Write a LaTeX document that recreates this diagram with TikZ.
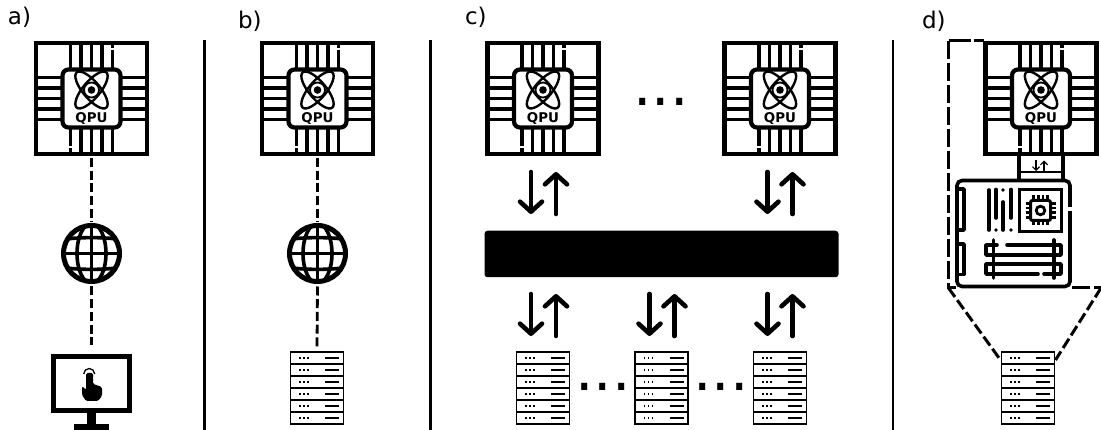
\documentclass[tikz,border=0pt]{standalone}
\usepackage{fontspec}
\setmainfont{DejaVu Sans}
\usetikzlibrary{arrows.meta}
\tikzset{
  every node/.style={inner sep=0pt,outer sep=0pt},
  qpuframe/.style={draw=black,line width=4.6pt,minimum width=111pt,minimum height=111pt,fill=white},
  qpucore/.style={draw=black,line width=4.2pt,minimum width=58pt,minimum height=58pt,rounded corners=6pt,fill=white},
  pinline/.style={line width=3.5pt},
  orbit/.style={line width=2.4pt},
  linkdash/.style={line width=2.8pt,dash pattern=on 9pt off 3.7pt},
  divider/.style={line width=2.6pt},
  barb/.style={line width=4.6pt,line cap=round,-{Straight Barb[length=10pt,width=22pt,round,line width=4.6pt]}},
  smallbarb/.style={line width=1.2pt,-{Straight Barb[length=3.5pt,width=7pt,line width=1.2pt]}},
  tag/.style={anchor=base west,font=\fontsize{23}{23}\selectfont},
  ellipsis/.style={anchor=base,font=\fontsize{58}{58}\selectfont},
  rackbox/.style={draw=black,line width=1.8pt,minimum width=53pt,minimum height=72pt,fill=white},
  boardline/.style={line width=3.6pt,line cap=round,line join=round},
  funnel/.style={line width=3pt,dash pattern=on 11pt off 4pt},
}
\newcommand{\qpuicon}[3]{%
  \node[qpuframe] (#1) at (#2,#3) {};
  \begin{scope}[shift={(#2,#3)}]
    \foreach \d in {-21,-10.5,0,10.5,21}{
      \draw[pinline] (\d,-56) -- (\d,56);
      \draw[pinline] (-56,\d) -- (56,\d);
    }
    \draw[white,line width=4pt] (21,-50) -- (21,-48);
    \draw[white,line width=4pt] (-21,48) -- (-21,50);
    \node[qpucore] (#1core) at (0,0) {};
    \begin{scope}[shift={(0,-8.5)}]
      \draw[orbit,rotate=50] (0,0) ellipse (23 and 8.5);
      \draw[orbit,rotate=-50] (0,0) ellipse (23 and 8.5);
      \draw[line width=1.8pt] (0,0) circle (7.5);
      \fill (0,0) circle (3.8);
    \end{scope}
    \node[anchor=base,font=\fontsize{13.4}{13.4}\selectfont\bfseries] (#1text) at (0,24.5) {QPU};
  \end{scope}}
\newcommand{\globeicon}[3]{%
  \node[draw=black,line width=5pt,circle,minimum size=56pt] (#1) at (#2,#3) {};
  \begin{scope}
    \clip (#2,#3) circle (28);
    \begin{scope}[shift={(#2,#3)},line width=3.6pt]
      \draw (0,-30) -- (0,30);
      \draw (-30,0) -- (30,0);
      \draw (0,0) ellipse (14.5 and 30);
      \draw (-30,-14) .. controls (-10,-16.5) and (10,-16.5) .. (30,-14);
      \draw (-30,14) .. controls (-10,16.5) and (10,16.5) .. (30,14);
    \end{scope}
  \end{scope}}
\newcommand{\rackicon}[3]{%
  \node[rackbox] (#1) at (#2,#3) {};
  \begin{scope}[shift={(#2,#3)}]
    \foreach \r in {0,...,5}{
      \pgfmathsetmacro{\ry}{-36+6+12*\r}
      \ifnum\r>0 \draw[line width=1.9pt] (-26.5,\ry-6) -- (26.5,\ry-6);\fi
      \foreach \dx in {-17,-13,-9}{\fill (\dx-0.9,\ry-0.9) rectangle (\dx+0.9,\ry+0.9);}
      \draw[line width=1.6pt] (8,\ry) -- (22,\ry);
    }
  \end{scope}}
\newcommand{\swaparrows}[5]{% name, xdown, xup, ytop, ybot
  \coordinate (#1dt) at (#2,#4);
  \coordinate (#1db) at (#2,#5);
  \coordinate (#1ut) at (#3,#4);
  \coordinate (#1ub) at (#3,#5);
  \draw[barb] (#1dt) -- (#1db);
  \draw[barb] (#1ub) -- (#1ut);}
\begin{document}
\begin{tikzpicture}[x=1pt,y=-1pt]
\path[use as bounding box,fill=white] (0,0) rectangle (1101,430);
\clip (0,0) rectangle (1101,430);
% tags
\node[tag] (la) at (8,25) {a)};
\node[tag] (lb) at (238,29) {b)};
\node[tag] (lc) at (465,25) {c)};
\node[tag] (ld) at (922,29) {d)};
% dividers
\coordinate (d1t) at (204.5,40); \coordinate (d1b) at (204.5,430);
\coordinate (d2t) at (430.5,40); \coordinate (d2b) at (430.5,430);
\coordinate (d3t) at (893,40); \coordinate (d3b) at (893,430);
\draw[divider] (d1t) -- (d1b);
\draw[divider] (d2t) -- (d2b);
\draw[divider] (d3t) -- (d3b);
% panel a
\qpuicon{qa}{91.5}{98.5}
\globeicon{ga}{91.5}{253.5}
\draw[linkdash] ([yshift=-4pt]qa.south) -- ([yshift=3pt]ga.north);
% monitor
\node[draw=black,line width=5pt,minimum width=76pt,minimum height=54.5pt] (screen) at (91.5,383.5) {};
\fill (87,413) rectangle (96,426);
\fill (74,423.5) rectangle (109,430);
\draw[line width=1.3pt] (83.7,374) arc (180:360:5.5);
\fill[rounded corners=1.5pt] (86,373) -- (93,373) -- (93,384) -- (102,387) -- (102,396) -- (98,401) -- (86,401) -- (82,395) -- (82,386) -- (86,390) -- cycle;
\coordinate (ma) at (91.5,345);
\draw[linkdash] ([yshift=-5pt]ga.south) -- (ma);
% panel b
\qpuicon{qb}{317.5}{98.5}
\globeicon{gb}{317.5}{253.5}
\rackicon{rb}{317}{388}
\draw[linkdash] ([yshift=-4pt]qb.south) -- ([yshift=3pt]gb.north);
\draw[linkdash] ([yshift=-5pt]gb.south) -- ([yshift=5pt]rb.north);
% panel c
\qpuicon{qc1}{543}{98.5}
\qpuicon{qc2}{780}{98.5}
\node[ellipsis] (dots1) at (661,106) {...};
\node[fill=black,rounded corners=3pt,minimum width=354pt,minimum height=46.5pt] (bus) at (661.5,254) {};
\swaparrows{u1}{531}{556}{172}{214}
\swaparrows{u2}{767.5}{792.5}{172}{214}
\swaparrows{l1}{531}{556}{294}{336}
\swaparrows{l2}{649.5}{674.5}{294}{336}
\swaparrows{l3}{767.5}{792.5}{294}{336}
\rackicon{rc1}{543}{388}
\rackicon{rc2}{661.5}{388}
\rackicon{rc3}{780}{388}
\node[ellipsis] (dots2) at (603,391) {...};
\node[ellipsis] (dots3) at (721,391) {...};
% panel d
\coordinate (ftr) at (984,41);
\coordinate (ftl) at (948.5,41);
\coordinate (fbl) at (948.5,288);
\coordinate (fbr) at (1101,288);
\coordinate (fbs) at (1072,288);
\draw[line width=3pt,dash pattern=on 22pt off 3pt] (ftl) -- (ftr);
\draw[line width=3pt,dash pattern=on 18pt off 4pt] (ftl) -- (fbl) -- (956,288);
\draw[line width=3pt,dash pattern=on 18pt off 4pt] (fbs) -- (fbr);
\qpuicon{qd}{1041}{98.5}
\rackicon{rd}{1028}{388}
\draw[funnel] (fbl) -- ([xshift=-1pt,yshift=-8pt]rd.north west);
\draw[funnel] (fbr) -- ([xshift=1pt,yshift=-8pt]rd.north east);
% link box
\draw[line width=3.6pt] (1019,156) -- (1019,180);
\draw[line width=3.6pt] (1063,156) -- (1063,180);
\draw[line width=2pt] (1019,172.5) -- (1063,172.5);
\coordinate (sdt) at (1036,160.5); \coordinate (sdb) at (1036,171);
\coordinate (sut) at (1044,160.5); \coordinate (sub) at (1044,171);
\draw[smallbarb] (sdt) -- (sdb);
\draw[smallbarb] (sub) -- (sut);
% board
\node[draw=black,fill=white,line width=3.6pt,rounded corners=5pt,minimum width=113pt,minimum height=106pt] (board) at (1013.5,233.5) {};
\draw[white,line width=4.4pt] (1070,207) -- (1070,211);
\draw[boardline,line cap=butt] (957,189) -- (964,189) -- (964,230) -- (957,230);
\draw[boardline,line cap=butt] (957,244) -- (964,244) -- (964,274.5) -- (957,274.5);
\draw[boardline] (989,190) -- (989,230);
\draw[boardline] (996,189.5) -- (996,218);
\fill (996,230) circle (1.8);
\fill (1003,190) circle (1.8);
\draw[boardline] (1003,202) -- (1003,230);
\draw[boardline] (1011,189.5) -- (1011,218);
\fill (1011,230) circle (1.8);
\node[draw=black,line width=3.4pt,minimum width=41.5pt,minimum height=41.5pt] (socket) at (1040.5,210.5) {};
\foreach \d in {-7.2,-2.4,2.4,7.2}{
  \draw[line width=2.8pt] (1040.5+\d,195.5) -- (1040.5+\d,225.5);
  \draw[line width=2.8pt] (1025.5,210.5+\d) -- (1055.5,210.5+\d);
}
\node[draw=black,fill=white,line width=3pt,rounded corners=2pt,minimum size=20pt] (chip) at (1040.5,210.5) {};
\draw[line width=2.8pt] (1040.5,210.5) circle (4.3);
\draw[boardline] (997,245) -- (986,245) -- (986,255) -- (1061,255) -- (1061,245) -- (1007,245);
\draw[boardline] (1038,274) -- (986,274) -- (986,264) -- (1061,264) -- (1061,274) -- (1044,274);
\draw[boardline] (993.5,240) -- (993.5,278);
\draw[boardline] (1054,240) -- (1054,278);
\end{tikzpicture}
\end{document}
